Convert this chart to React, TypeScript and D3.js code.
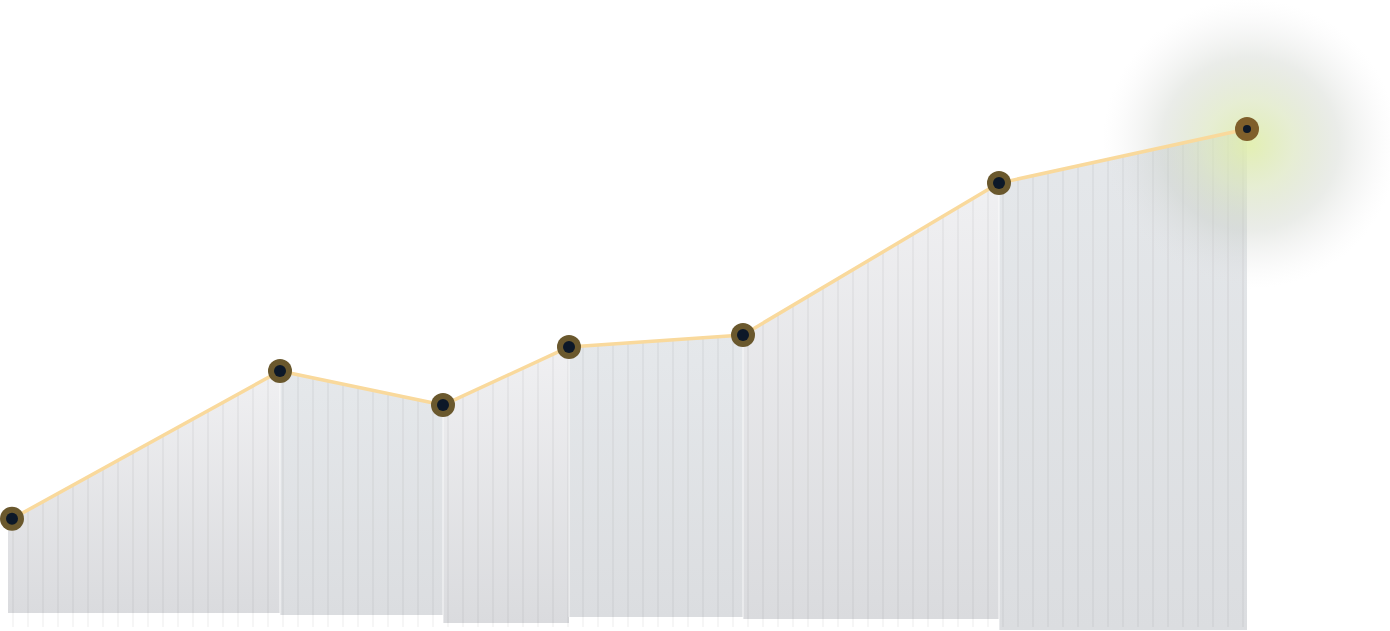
import React from 'react';
import * as d3 from 'd3';

// day offsets of each reading, reading value, and the base of each paper strip
const days = [0, 53.6, 86.2, 111.4, 146.2, 197.4, 247];
const values = [22.2, 51.7, 44.9, 56.5, 58.9, 89.2, 100];
const segmentBase = [3.4, 3.0, 1.4, 2.6, 2.2, 0];

const width = 1390;
const height = 631;

type P = { px: number; py: number };

const App: React.FC = () => {
  const x = d3.scaleLinear().domain([0, 247]).range([12, 1247]);
  const y = d3.scaleLinear().domain([0, 100]).range([630, 129]);

  const points = days.map((d, i) => ({ d, v: values[i] }));
  const line = d3
    .line<{ d: number; v: number }>()
    .x((p) => x(p.d))
    .y((p) => y(p.v));

  const segments = segmentBase.map((base, i) => {
    const a: P = { px: x(points[i].d), py: y(points[i].v) };
    const b: P = { px: x(points[i + 1].d), py: y(points[i + 1].v) };
    const pts: P[] = i === 0 ? [{ px: a.px - 4, py: a.py }, a, b] : [a, b];
    const area = (bottom: number) =>
      d3
        .area<P>()
        .x((p) => p.px)
        .y0(bottom)
        .y1((p) => p.py)(pts)!;
    const slope = (a.py - b.py) / (b.px - a.px);
    return {
      i,
      path: area(y(base)),
      clip: area(627),
      light: slope > 0.3,
      left: a.px,
      top: a.py,
      bottom: y(base),
    };
  });

  const stripes = d3.range(13, 1250, 15);

  return (
    <svg
      width={width}
      height={height}
      style={{ position: 'absolute', left: 0, top: 0, display: 'block' }}
    >
      <defs>
        <linearGradient id="fillLight" x1="0" y1="0" x2="0" y2="1">
          <stop offset="0%" stopColor="#f0f0f2" />
          <stop offset="100%" stopColor="#dadbde" />
        </linearGradient>
        <linearGradient id="fillBlue" x1="0" y1="0" x2="0" y2="1">
          <stop offset="0%" stopColor="#e5e8eb" />
          <stop offset="100%" stopColor="#dbdde0" />
        </linearGradient>
        <radialGradient id="glow" cx="0.5" cy="0.5" r="0.5">
          <stop offset="0%" stopColor="rgb(224,238,170)" stopOpacity="0.9" />
          <stop offset="30%" stopColor="rgb(214,226,182)" stopOpacity="0.6" />
          <stop offset="60%" stopColor="rgb(196,202,192)" stopOpacity="0.35" />
          <stop offset="82%" stopColor="rgb(210,212,210)" stopOpacity="0.15" />
          <stop offset="100%" stopColor="rgb(230,230,230)" stopOpacity="0" />
        </radialGradient>
        <clipPath id="stripeClip">
          {segments.map((s) => (
            <path key={s.i} d={s.clip} />
          ))}
        </clipPath>
      </defs>

      {segments.map((s) => (
        <path
          key={s.i}
          d={s.path}
          fill={s.light ? 'url(#fillLight)' : 'url(#fillBlue)'}
        />
      ))}

      {segments.slice(1).map((s) => (
        <line
          key={s.i}
          x1={s.left}
          x2={s.left}
          y1={s.top}
          y2={s.bottom}
          stroke="#ffffff"
          strokeOpacity={0.8}
          strokeWidth={1}
        />
      ))}

      <g clipPath="url(#stripeClip)">
        {stripes.map((sx) => (
          <line
            key={sx}
            x1={sx}
            x2={sx}
            y1={0}
            y2={627}
            stroke="#000"
            strokeOpacity={0.035}
            strokeWidth={2}
          />
        ))}
      </g>

      <ellipse
        cx={x(247) + 3}
        cy={y(100) + 15}
        rx={148}
        ry={145}
        fill="url(#glow)"
      />

      <path
        d={line(points)!}
        fill="none"
        stroke="#f9d99c"
        strokeWidth={3.5}
        strokeLinejoin="round"
      />

      {points.map((p, i) => {
        const last = i === points.length - 1;
        return (
          <g key={i} transform={`translate(${x(p.d)},${y(p.v)})`}>
            <circle r={12} fill={last ? '#7f5f2b' : '#6a582d'} />
            <circle r={last ? 4 : 6} fill="#0c1828" />
          </g>
        );
      })}
    </svg>
  );
};

export default App;
